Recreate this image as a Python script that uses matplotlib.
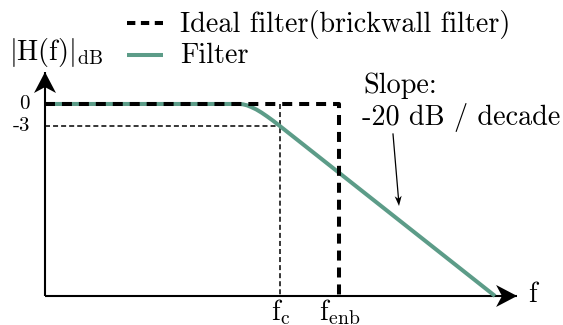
import matplotlib
matplotlib.use("Agg")
import matplotlib.pyplot as plt
from matplotlib.lines import Line2D
import numpy as np

plt.rcParams['mathtext.fontset'] = 'cm'
plt.rcParams['lines.scale_dashes'] = False

# ---- data (x: frequency in units of f_c, y: magnitude in dB) ----
filter_freq = [0.0, 0.830, 0.843, 0.860, 0.878, 0.899, 0.921, 0.945, 0.971, 1.0, 1.915]
filter_mag = [0.0, 0.0, -0.05, -0.19, -0.42, -0.74, -1.16, -1.68, -2.28, -3.0, -26.0]
f_c = 1.0
f_enb = 1.25
ideal_freq = [0.0, f_enb, f_enb]
ideal_mag = [0.0, 0.0, -26.0]
ytick_values = [0, -3]
ytick_labels = ['0', '-3']
xtick_values = [f_c, f_enb]
xtick_labels = [r'$\mathrm{f_c}$', r'$\mathrm{f_{enb}}$']
legend_labels = ['Ideal filter(brickwall filter)', 'Filter']
axis_floor = -26.0
x_axis_end = 2.009
y_axis_end = 4.33

W, H = 563, 325
XLIM = (-0.1915, 2.2043)
YLIM = (-29.93, 14.08)
fig = plt.figure(figsize=(W / 100, H / 100), dpi=100)
ax = fig.add_axes([0, 0, 1, 1])
ax.set_xlim(*XLIM)
ax.set_ylim(*YLIM)
ax.axis('off')

green = '#5c9c88'
cm_font = 'cmr10'
fs = 20.3

SX = (XLIM[1] - XLIM[0]) / W   # data units per pixel
SY = (YLIM[1] - YLIM[0]) / H

def P(x, y):
    return (x, H - y)

def head(tx, ty, angle_deg, length, width):
    """stealth arrow head; tip in data coords, size in pixels"""
    a = np.radians(angle_deg)
    d = np.array([np.cos(a), np.sin(a)])
    n = np.array([-d[1], d[0]])
    pts = [np.zeros(2), -length * d + width / 2 * n, -0.72 * length * d,
           -length * d - width / 2 * n]
    xs = [tx + p[0] * SX for p in pts]
    ys = [ty + p[1] * SY for p in pts]
    ax.fill(xs, ys, color='black', lw=0, zorder=6, clip_on=False)

def px2data(x, y):
    return (XLIM[0] + x * SX, YLIM[0] + (H - y) * SY)

# axes
ax.plot([0, x_axis_end], [axis_floor, axis_floor], color='black', lw=1.5, solid_capstyle='butt')
ax.plot([0, 0], [axis_floor, y_axis_end], color='black', lw=1.5, solid_capstyle='butt')
head(x_axis_end, axis_floor, 0, 21, 22)
head(0, y_axis_end, 90, 21, 22)

# thin guides for -3 dB / f_c
ax.plot([0, f_c], [-3, -3], color='black', lw=1.1, ls=(0, (3.6, 2.2)))
ax.plot([f_c, f_c], [0, axis_floor], color='black', lw=1.1, ls=(0, (3.6, 2.2)))

# filter
ax.plot(filter_freq, filter_mag, color=green, lw=2.9, solid_capstyle='butt')
# ideal brickwall
ax.plot(ideal_freq, ideal_mag, color='black', lw=2.9, ls=(0, (7.2, 5.0)))

# tick labels
for v, lab in zip(ytick_values, ytick_labels):
    ax.annotate(lab, xy=(0, v), xytext=(-15, 0), textcoords='offset pixels',
                ha='right', va='center', fontsize=15, family=cm_font)
for v, lab in zip(xtick_values, xtick_labels):
    ax.annotate(lab, xy=(v, axis_floor), xytext=(1, -24), textcoords='offset pixels',
                ha='center', va='baseline', fontsize=fs)

# axis labels
ax.annotate(r'$\mathrm{f}$', xy=P(528, 302), xycoords='figure pixels', ha='left', va='baseline', fontsize=fs)
ax.annotate(r'$|\mathrm{H(f)}|_{\mathrm{dB}}$', xy=P(9, 60), xycoords='figure pixels',
            ha='left', va='baseline', fontsize=fs)

# slope annotation
ax.annotate('Slope:', xy=P(363, 93), xycoords='figure pixels',
            ha='left', va='baseline', fontsize=fs, family=cm_font)
ax.annotate('-20 dB / decade', xy=P(362, 125), xycoords='figure pixels',
            ha='left', va='baseline', fontsize=fs, family=cm_font)
s0 = px2data(393, 134)
s1 = px2data(399, 206)
s1b = px2data(398.6, 200)
ax.plot([s0[0], s1b[0]], [s0[1], s1b[1]], color='black', lw=0.9)
ang = np.degrees(np.arctan2(-(206 - 134), 399 - 393))
head(s1[0], s1[1], ang, 10, 7)

# legend (drawn in figure pixels)
lx0, lx1, tx = 127, 163, 180
rows = [(23, 32), (55, 63)]
fig.add_artist(Line2D([lx0, lx1], [H - rows[0][0]] * 2, color='black', lw=2.9,
                      ls=(0, (6.0, 4.0)), transform=None))
fig.add_artist(Line2D([lx0, lx1], [H - rows[1][0]] * 2, color=green, lw=2.9,
                      transform=None, solid_capstyle='butt'))
for (hy, by), lab in zip(rows, legend_labels):
    fig.text(tx, H - by, lab, transform=None, ha='left', va='baseline',
             fontsize=fs, family=cm_font)

fig.savefig('out.png', dpi=100)
